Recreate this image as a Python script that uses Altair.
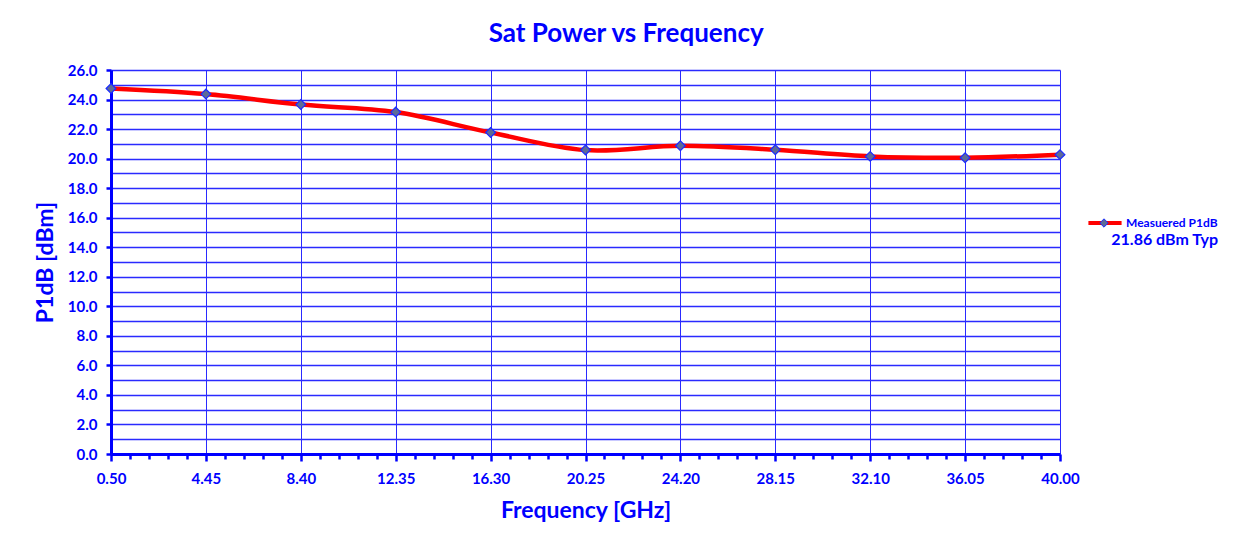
import altair as alt
import pandas as pd

# ---- data ----
freq = [0.50, 4.45, 8.40, 12.35, 16.30, 20.25, 24.20, 28.15, 32.10, 36.05, 40.00]
p1db = [24.75, 24.37, 23.66, 23.15, 21.77, 20.58, 20.87, 20.60, 20.15, 20.06, 20.27]
series_name = "Measuered P1dB"
typ_label = "21.86 dBm Typ"
chart_title = "Sat Power vs Frequency"
x_title = "Frequency [GHz]"
y_title = "P1dB [dBm]"

BLUE = "#0000ff"
GRID = "#2a2aff"
RED = "#ff0000"
MARKER = "#5d6a98"
FONT = "Lato"

df = pd.DataFrame({
    "freq": freq,
    "p1db": p1db,
    "series": [series_name] * len(freq),
    "marker": [series_name] * len(freq),
})

# axis tick positions: majors every 3.95 GHz, 4 minor ticks between them
step = (freq[-1] - freq[0]) / (len(freq) - 1)
x_ticks = [round(freq[0] + k * step / 5, 3) for k in range(5 * (len(freq) - 1) + 1)]
y_ticks = list(range(0, 27))

major_x = f"abs((datum.value - {freq[0]}) / {step} - round((datum.value - {freq[0]}) / {step})) < 0.001"
even_y = "abs(datum.value % 2) < 0.001"

x_enc = alt.X(
    "freq:Q",
    scale=alt.Scale(domain=[freq[0], freq[-1]], nice=False, zero=False),
    axis=alt.Axis(
        title=x_title,
        values=x_ticks,
        tickCount=200,
        labelExpr=f"{major_x} ? format(datum.value, '.2f') : ''",
        labelOverlap=False,
        labelFlush=False,
        labelFont=FONT, labelFontSize=15, labelFontWeight="bold", labelColor=BLUE,
        labelPadding=10,
        grid=True, gridColor=GRID, gridWidth=1,
        gridOpacity={"condition": {"test": major_x, "value": 1}, "value": 0},
        tickColor=BLUE, tickWidth=2.5,
        tickSize={"condition": {"test": major_x, "value": 7}, "value": 5},
        domainColor=BLUE, domainWidth=3,
        titleFont=FONT, titleFontSize=23, titleFontWeight="bold", titleColor=BLUE,
        titlePadding=13,
    ),
)

y_enc = alt.Y(
    "p1db:Q",
    scale=alt.Scale(domain=[0, 26], nice=False, zero=True),
    axis=alt.Axis(
        title=y_title,
        values=y_ticks,
        tickCount=200,
        labelExpr=f"{even_y} ? format(datum.value, '.1f') : ''",
        labelOverlap=False,
        labelFlush=False,
        labelFont=FONT, labelFontSize=15, labelFontWeight="bold", labelColor=BLUE,
        labelPadding=9,
        grid=True, gridColor=GRID, gridWidth=1.3,
        tickColor=BLUE, tickWidth=2.5, tickSize=5,
        tickOpacity={"condition": {"test": even_y, "value": 1}, "value": 0},
        domainColor=BLUE, domainWidth=3,
        titleFont=FONT, titleFontSize=23, titleFontWeight="bold", titleColor=BLUE,
        titlePadding=10,
    ),
)

base = alt.Chart(df)

line = base.mark_line(interpolate="catmull-rom", strokeWidth=4.5).encode(
    x=x_enc,
    y=y_enc,
    color=alt.Color(
        "series:N",
        scale=alt.Scale(range=[RED]),
        legend=alt.Legend(
            orient="none", legendX=975, legendY=134, padding=0,
            symbolType="stroke", symbolStrokeWidth=4, symbolSize=1100,
            labelFont=FONT, labelFontSize=12, labelFontWeight="bold", labelColor=BLUE,
            labelOffset=2,
            title=typ_label, titleOrient="bottom", titleAnchor="end",
            titleFont=FONT, titleFontSize=16, titleFontWeight="bold", titleColor=BLUE,
            titlePadding=1,
        ),
    ),
)

points = base.mark_point(shape="diamond", filled=True, size=95, stroke="#1a2cff",
                         strokeWidth=1.2, opacity=1).encode(
    x="freq:Q",
    y="p1db:Q",
    fill=alt.Fill(
        "marker:N",
        scale=alt.Scale(range=[MARKER]),
        legend=alt.Legend(
            orient="none", legendX=987, legendY=147, padding=0,
            symbolType="diamond", symbolSize=70, symbolStrokeColor="#1a2cff",
            symbolStrokeWidth=1,
            labelExpr="''", labelFontSize=12, title=None,
        ),
    ),
)

chart = (
    alt.layer(line, points)
    .resolve_scale(color="independent", fill="independent")
    .properties(
        width=949,
        height=384,
        autosize=alt.AutoSizeParams(type="none"),
        padding={"left": 103, "top": 62, "right": 175, "bottom": 75},
        title=alt.TitleParams(
            chart_title, font=FONT, fontSize=26, fontWeight="bold", color=BLUE,
            anchor="middle", frame="bounds", offset=16,
        ),
    )
    .configure_view(stroke=None)
    .configure(background="white")
)

chart.save("out.html", embed_options={"renderer": "svg", "actions": False})
